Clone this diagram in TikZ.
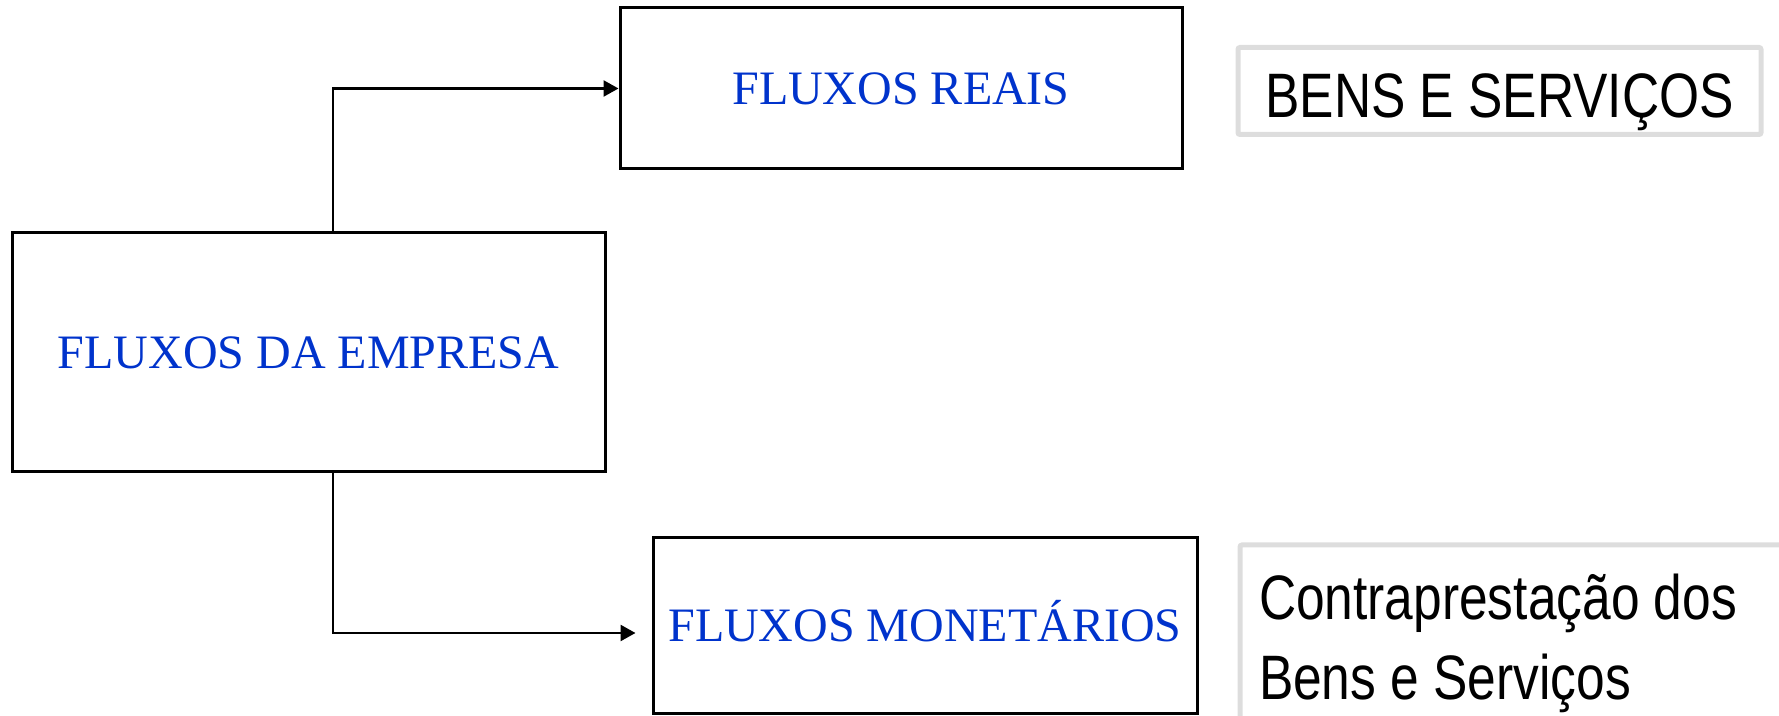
\documentclass[tikz,border=0pt]{standalone}
\usepackage{fontspec}
\setmainfont{Liberation Serif}
\newfontfamily\narrowsans[FakeStretch=0.82]{Liberation Sans}
\usetikzlibrary{arrows.meta}
\definecolor{flowblue}{RGB}{0,51,204}
\definecolor{notegray}{RGB}{221,221,221}
\tikzset{
  flowbox/.style={draw, line width=1.5pt, inner sep=0pt, text=flowblue,
    font=\fontsize{24}{28}\selectfont, text height=16pt, text depth=0pt},
  notebox/.style={draw=notegray, line width=2.5pt, rounded corners=1pt,
    font=\narrowsans\fontsize{31.4}{40}\selectfont},
  flowarrow/.style={-{Triangle[length=7.5pt,width=8pt]}, line width=1.25pt}
}

\begin{document}
\begin{tikzpicture}[x=0.5pt,y=0.5pt]
    % Fix the size of the picture
    \clip (0,0) rectangle (1779,716);

    % Draw the main box
    \node[flowbox, minimum width=296.5pt, minimum height=119.5pt] (empresa) at (308.5,363.5) {FLUXOS DA EMPRESA};

    % Draw the two flow boxes
    \node[flowbox, minimum width=281pt, minimum height=80.5pt] (reais) at (901,627.5) {FLUXOS REAIS};
    \node[flowbox, minimum width=272pt, minimum height=88pt] (monet) at (925,90) {FLUXOS MONETÁRIOS};

    % Draw the notes on the right
    \node[notebox, inner sep=0pt, minimum width=261.5pt, minimum height=43.5pt,
      text height=27pt, text depth=0pt] (bens) at (1499.5,625) {BENS E SERVIÇOS};
    \node[notebox, anchor=north west, inner xsep=9.5pt, inner ysep=14.75pt,
      text width=258.5pt, align=flush left] (contra) at (1237.5,173.5) {Contraprestação dos\\Bens e Serviços};

    % Draw the arrows from the main box
    \draw[flowarrow] ([xshift=12.25pt]empresa.north) |- (reais.west);
    \draw[flowarrow] ([xshift=12.25pt]empresa.south) |- ([xshift=-8pt,yshift=-3.5pt]monet.west);
\end{tikzpicture}
\end{document}
